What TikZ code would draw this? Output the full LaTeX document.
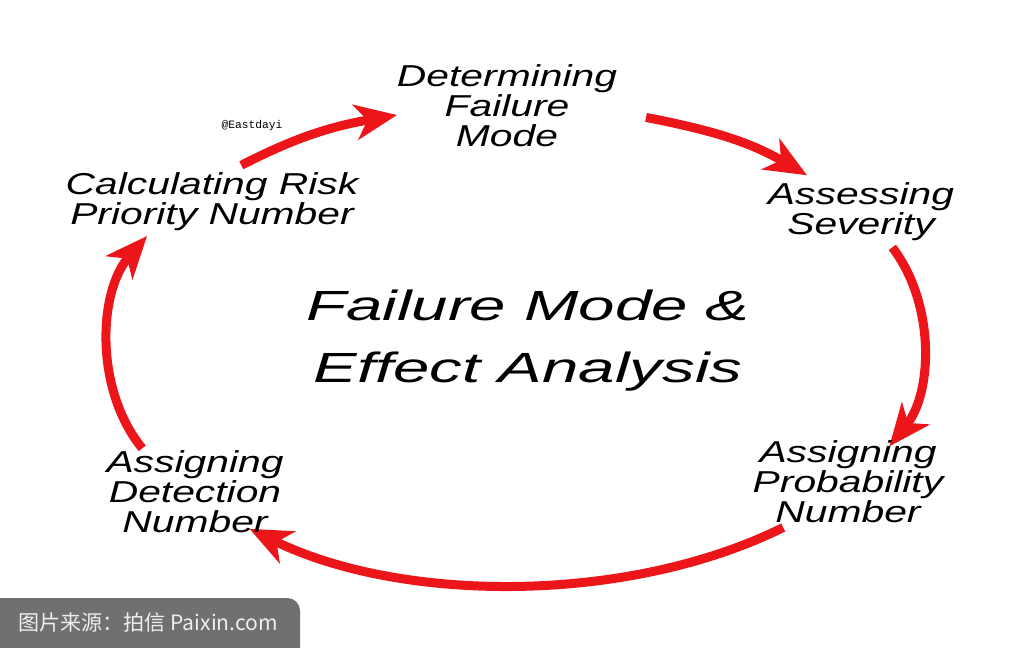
\documentclass[tikz,border=0pt]{standalone}
\usepackage{fontspec}
\newfontfamily\labelfont{Liberation Sans}[FakeStretch=1.35]
\newfontfamily\titlefont{Liberation Sans}[FakeStretch=1.55]
\newfontfamily\markfont{Liberation Mono}
\newfontfamily\cjkfont{Noto Sans CJK SC}
\usetikzlibrary{arrows.meta,calc}
\definecolor{arrowred}{RGB}{236,22,26}
\definecolor{badgegray}{RGB}{112,112,112}
\definecolor{badgetext}{RGB}{238,238,238}
\begin{document}
\begin{tikzpicture}[
x=0.025cm, y=0.025cm,
stage/.style={
align=center,
inner sep=0pt,
font=\labelfont\itshape\fontsize{21.5}{21.3}\selectfont
},
headline/.style={
align=center,
inner sep=0pt,
font=\titlefont\itshape\fontsize{30}{44}\selectfont
},
flow/.style={
draw=arrowred,
line width=0.225cm,
-{Stealth[length=1.05cm, width=0.88cm, inset=0.3cm]}
}
]
\useasboundingbox (0,0) rectangle (1022,647);
\fill[white] (0,0) rectangle (1022,647);
\coordinate (ring) at (515,302);
\coordinate (a1) at ($(ring)+(131.5:413 and 240)$);
\coordinate (b1) at ($(ring)+(106.6:413 and 240)$);
\coordinate (a2) at ($(ring)+(71.5:413 and 240)$);
\coordinate (b2) at ($(ring)+(45:413 and 240)$);
\coordinate (a3) at ($(ring)+(24:413 and 240)$);
\coordinate (b3) at ($(ring)+(-25:413 and 240)$);
\coordinate (a4) at ($(ring)+(-49.5:413 and 240)$);
\coordinate (b4) at ($(ring)+(-130:413 and 240)$);
\coordinate (a5) at ($(ring)+(-154.5:413 and 240)$);
\coordinate (b5) at ($(ring)+(153:413 and 240)$);
\draw[flow] (a1) to[out=27.2, in=189.8] (b1);
\draw[flow] (a2) to[out=-11, in=149.8] (b2);
\draw[flow] (a3) to[out=-52.5, in=51.3, looseness=0.9] (b3);
\draw[flow] (a4) to[out=206.4, in=-26, looseness=0.82] (b4);
\draw[flow] (a5) to[out=129.4, in=228.7, looseness=0.9] (b5);
\node[stage] (failmode) at (507,541) {Determining\\Failure\\Mode};
\node[stage] (severity) at (861,435) {Assessing\\Severity};
\node[stage] (probability) at (848,165) {Assigning\\Probability\\Number};
\node[stage] (detection) at (195,155) {Assigning\\Detection\\Number};
\node[stage] (rpn) at (212,445) {Calculating Risk\\Priority Number};
\node[headline] (fmea) at (528,306) {Failure Mode \&\\Effect Analysis};
\node[font=\markfont\fontsize{8}{9}\selectfont, inner sep=0pt] (mark) at (252,521) {@Eastdayi};
\fill[badgegray, rounded corners=9] (-20,-20) rectangle (300,49);
\node[font=\cjkfont\fontsize{15}{16}\selectfont, text=badgetext, inner sep=0pt] (source) at (148,24) {图片来源：拍信 Paixin.com};
\end{tikzpicture}
\end{document}
